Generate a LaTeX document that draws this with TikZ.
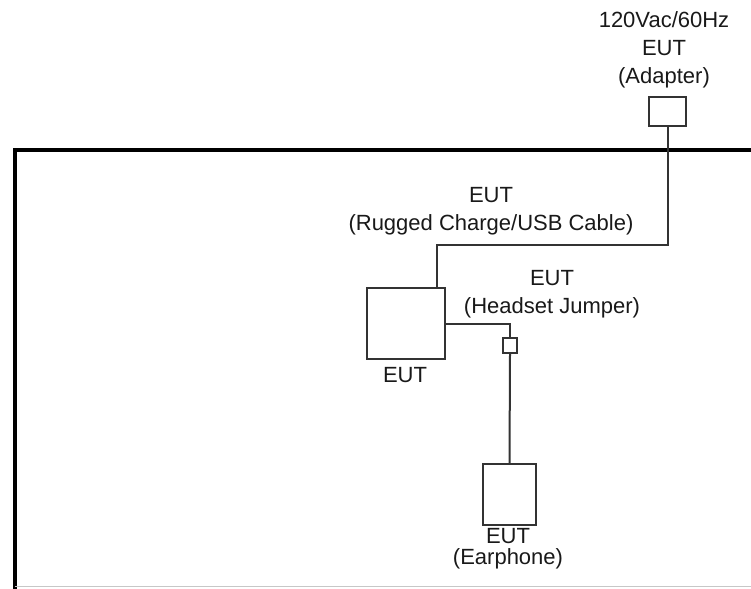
\documentclass[tikz,border=0pt]{standalone}
\usepackage{fontspec}
\setmainfont{Liberation Sans}
\usetikzlibrary{positioning}

\tikzset{
    box/.style={draw=black!80, line width=2pt, inner sep=0pt},
    wire/.style={draw=black!80, line width=2pt},
    frame/.style={draw=black, line width=4.5pt},
    lbl/.style={text=black!90, align=center, inner sep=0pt,
        font=\fontsize{22}{28}\selectfont}
}

\begin{document}
\begin{tikzpicture}[x=1pt, y=-1pt]
            \useasboundingbox (0,0) rectangle (751,588);
            % table outline
            \draw[frame] (15,590) -- (15,150) -- (753,150);
            \draw[black!22, line width=1.5pt] (15,586.5) -- (751,586.5);
            % units
            \node[box, minimum width=37pt, minimum height=29pt] (adapter) at (667.5,111.5) {};
            \node[box, minimum width=78pt, minimum height=71pt] (eut) at (406,323.5) {};
            \node[box, minimum width=14pt, minimum height=15pt] (jumper) at (510,345.5) {};
            \node[box, minimum width=53pt, minimum height=61pt] (earphone) at (509.5,494.5) {};
            % cables
            \draw[wire] (adapter.south) -- ++(0,118) -| ([xshift=31pt]eut.north);
            \draw[wire] (eut.east) -| (jumper.north);
            \draw[wire] (jumper.south) -- (earphone.north);
            % labels
            \node[lbl] (adapterlbl) at (664,50) {120Vac/60Hz\\EUT\\(Adapter)};
            \node[lbl] (cablelbl) at (491,211) {EUT\\(Rugged Charge/USB Cable)};
            \node[lbl] (jumperlbl) at (552,294) {EUT\\(Headset Jumper)};
            \node[lbl] (eutlbl) at (405,375) {EUT};
            \node[lbl] (earphonelbl) at (508,549) {EUT\\[-7pt](Earphone)};
        \end{tikzpicture}
\end{document}
